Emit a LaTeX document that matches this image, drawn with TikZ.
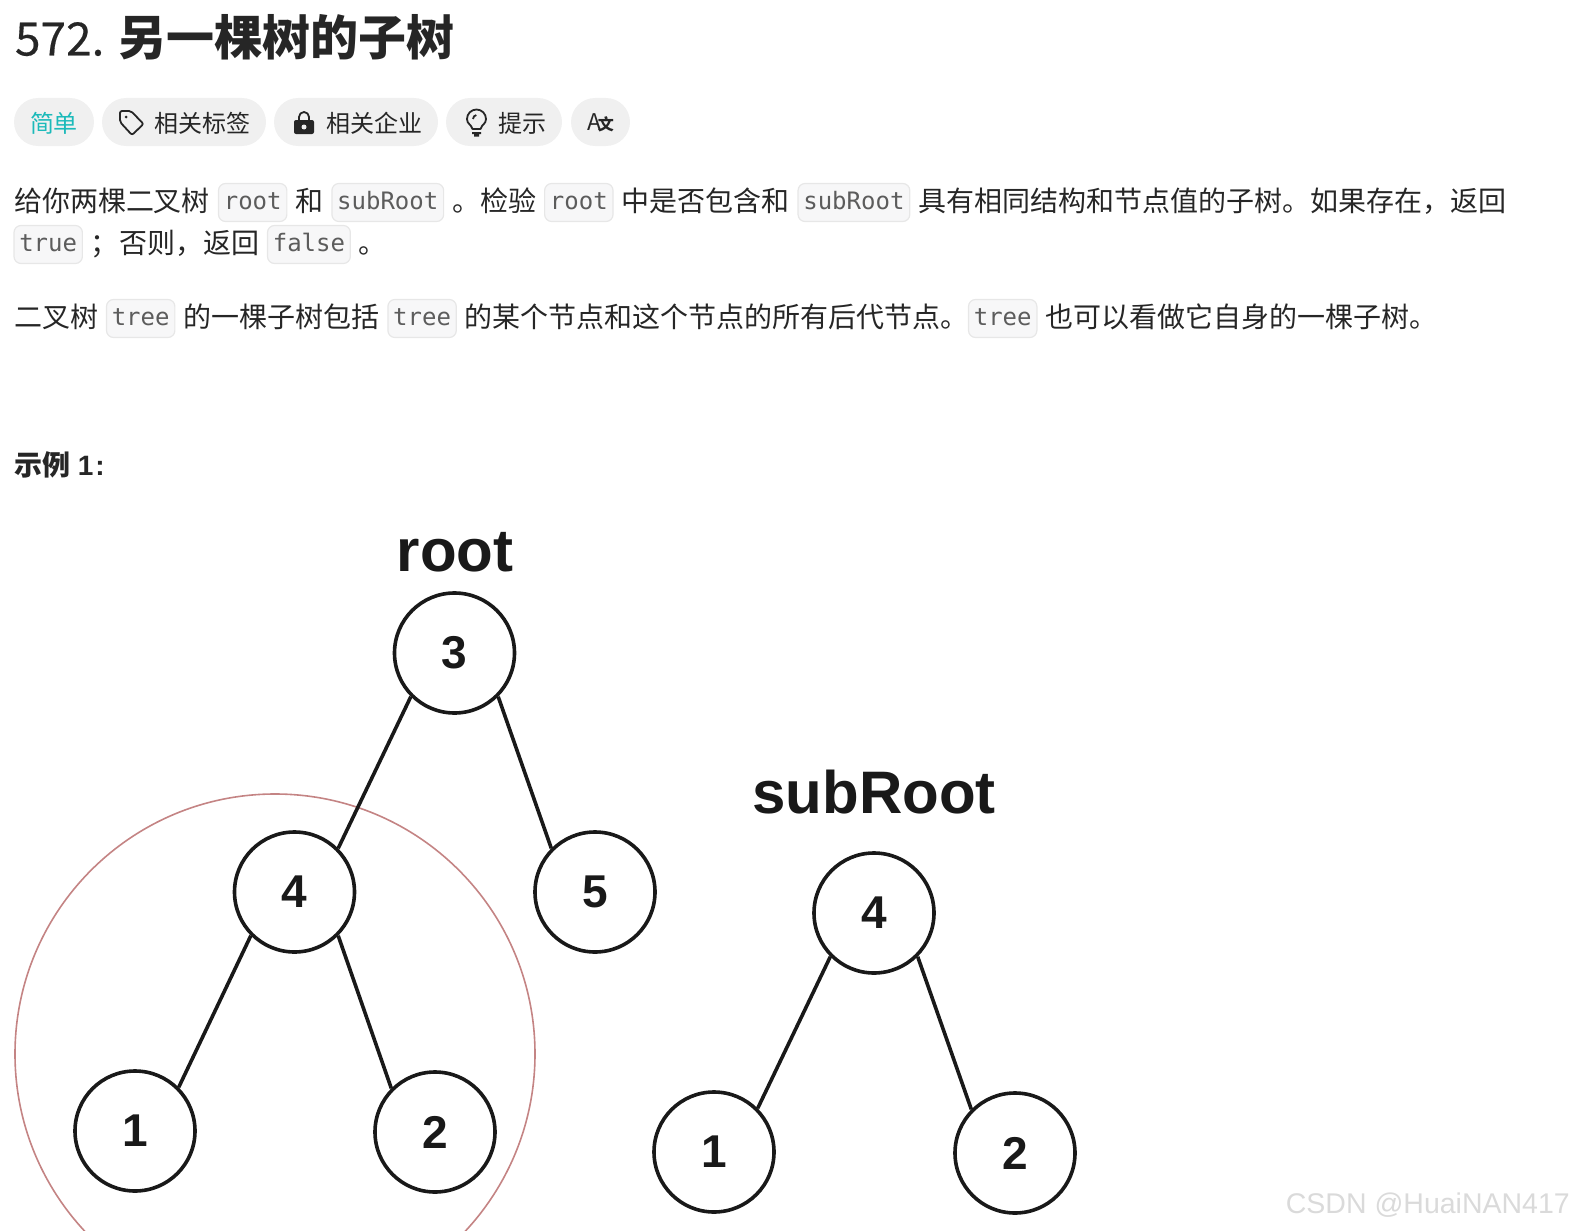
\documentclass[tikz,border=0pt]{standalone}
\usepackage{fontspec}
\setmainfont{Noto Sans CJK SC}
\newfontfamily\labelfont{Liberation Sans}
\newfontfamily\codefont{DejaVu Sans Mono}
\newfontfamily\numfont[FakeBold=0.35]{Noto Sans CJK SC}
\usetikzlibrary{positioning}
\newcommand{\fsz}[1]{\fontsize{#1}{#1}\selectfont}
\newcommand{\cd}[1]{\raisebox{2pt}{#1}}
\definecolor{inktext}{HTML}{262626}
\definecolor{pillgray}{HTML}{F0F0F0}
\definecolor{codefill}{HTML}{F7F7F8}
\definecolor{codeline}{HTML}{E7E7E7}
\definecolor{codetext}{HTML}{5C5C5C}
\definecolor{easyteal}{HTML}{1CBABA}
\definecolor{ringred}{HTML}{C48484}
\definecolor{markgray}{HTML}{DADADA}
\begin{document}
\begin{tikzpicture}[
        x=1pt, y=-1pt,
        node distance=8.5pt,
        txt/.style={inner sep=0pt, outer sep=0pt, text=inktext, font=\fsz{28}},
        code/.style={draw=codeline, fill=codefill, line width=1.2pt, rounded corners=7pt,
        inner xsep=5.3pt, inner ysep=0pt, outer sep=0pt, minimum height=38pt,
        text height=20pt, text depth=3pt, text=codetext, font=\codefont\fsz{24}},
        pill/.style={fill=pillgray, rounded corners=24pt, minimum height=48pt, inner sep=0pt},
        pilltxt/.style={inner sep=0pt, text=inktext, font=\fsz{24}},
        icon/.style={draw=inktext, line width=1.8pt, line join=round},
        treenode/.style={draw=black!90, circle, line width=3.6pt, minimum size=120pt,
        inner sep=0pt, font=\labelfont\bfseries\fsz{46}, text=black!90},
        edge/.style={draw=black!90, line width=3.6pt},
        title/.style={inner sep=0pt, text=black!90, font=\labelfont\bfseries\fsz{60}}
      ]
    \clip (0,0) rectangle (1575,1231);
    % heading
    \node[txt, anchor=base west, font=\numfont\fsz{46}] (num) at (15,55.5) {572.};
    \node[txt, anchor=base west, font=\bfseries\fsz{48}] (head) at (118,55.5) {另一棵树的子树};
    % tag row
    \node[pill, minimum width=80pt] (easy) at (54,122) {};
    \node[pilltxt, text=easyteal] at ([yshift=-1pt]easy.center) {简单};
    \node[pill, minimum width=164pt] (tags) at (184,122) {};
    \node[pilltxt, anchor=east] (tagstxt) at ([xshift=-16pt, yshift=-1pt]tags.east) {相关标签};
    \draw[icon, rounded corners=2pt] (120,111) -- (131,111) -- (143.5,124) -- (132,135) -- (120,122) -- cycle;
    \fill[inktext] (126,117) circle (1.5);
    \node[pill, minimum width=164pt] (corp) at (356,122) {};
    \node[pilltxt, anchor=east] (corptxt) at ([xshift=-16pt, yshift=-1pt]corp.east) {相关企业};
    \draw[icon] (299,121) -- (299,117) arc[start angle=180, end angle=0, radius=5pt] -- (309,121);
    \fill[inktext, rounded corners=2pt] (294,120) rectangle (314,134);
    \fill[pillgray] (304,127) circle (2.5);
    \node[pill, minimum width=116pt] (hint) at (504,122) {};
    \node[pilltxt, anchor=east] (hinttxt) at ([xshift=-16pt, yshift=-1pt]hint.east) {提示};
    \draw[icon] (472.5,129) .. controls (471,124) and (467,124) .. (467,119) arc[start angle=180, end angle=0, radius=9.5pt] .. controls (486,124) and (482,124) .. (480.5,129) -- cycle;
    \draw[icon] (473,119) arc[start angle=180, end angle=100, radius=4pt];
    \fill[inktext] (472,132) rectangle (481,134) (474,134) rectangle (479,136.5);
    \node[pill, minimum width=59pt] (lang) at (600.5,122) {};
    \node[pilltxt, font=\fsz{23}] (langtxt) at ([yshift=-1pt]lang.center) {A\kern-3pt{\bfseries\fsz{16}文}};
    % first paragraph
    \node[txt, anchor=base west] (a1) at (14,211) {给你两棵二叉树};
    \node[code, base right=of a1] (a2) {\cd{root}};
    \node[txt, base right=of a2] (a3) {和};
    \node[code, base right=of a3] (a4) {\cd{subRoot}};
    \node[txt, base right=of a4] (a5) {。检验};
    \node[code, base right=of a5] (a6) {\cd{root}};
    \node[txt, base right=of a6] (a7) {中是否包含和};
    \node[code, base right=of a7] (a8) {\cd{subRoot}};
    \node[txt, base right=of a8] (a9) {具有相同结构和节点值的子树。如果存在，返回};
    \node[code, anchor=base west] (b1) at (14,253) {\cd{true}};
    \node[txt, base right=of b1] (b2) {；};
    \node[txt, anchor=base west] (b3) at (119,253) {否则，返回};
    \node[code, base right=of b3] (b4) {\cd{false}};
    \node[txt, base right=of b4] (b5) {。};
    % second paragraph
    \node[txt, anchor=base west] (c1) at (14,327) {二叉树};
    \node[code, base right=of c1] (c2) {\cd{tree}};
    \node[txt, base right=of c2] (c3) {的一棵子树包括};
    \node[code, base right=of c3] (c4) {\cd{tree}};
    \node[txt, base right=of c4] (c5) {的某个节点和这个节点的所有后代节点。};
    \node[code, anchor=base west] (c6) at (968.5,327) {\cd{tree}};
    \node[txt, base right=of c6] (c7) {也可以看做它自身的一棵子树。};
    \node[txt, anchor=base west, font=\bfseries\fsz{28}] (ex) at (14,475) {示例{\labelfont\ 1\kern2pt:}};
    % big tree
    \draw[ringred, line width=1.6pt] (275,1054) circle (260);
    \node[title, anchor=base] (roottitle) at (455,571.5) {root};
    \node[treenode] (n3) at (454.5,653) {3};
    \node[treenode] (n4) at (294.5,892) {4};
    \node[treenode] (n5) at (595,892) {5};
    \node[treenode] (n1) at (135,1131) {1};
    \node[treenode] (n2) at (435,1132) {2};
    \draw[edge] (n3.225) -- (n4.45);
    \draw[edge] (n3.315) -- (n5.135);
    \draw[edge] (n4.225) -- (n1.45);
    \draw[edge] (n4.315) -- (n2.135);
    % small tree
    \node[title, anchor=base] (subtitle) at (874,813.5) {subRoot};
    \node[treenode] (s4) at (874,913) {4};
    \node[treenode] (s1) at (714,1152) {1};
    \node[treenode] (s2) at (1015,1153) {2};
    \draw[edge] (s4.225) -- (s1.45);
    \draw[edge] (s4.315) -- (s2.135);
    \node[inner sep=0pt, anchor=base east, text=markgray, font=\labelfont\fsz{28.5}] (mark) at (1570,1213) {CSDN @HuaiNAN417};
\end{tikzpicture}
\end{document}
